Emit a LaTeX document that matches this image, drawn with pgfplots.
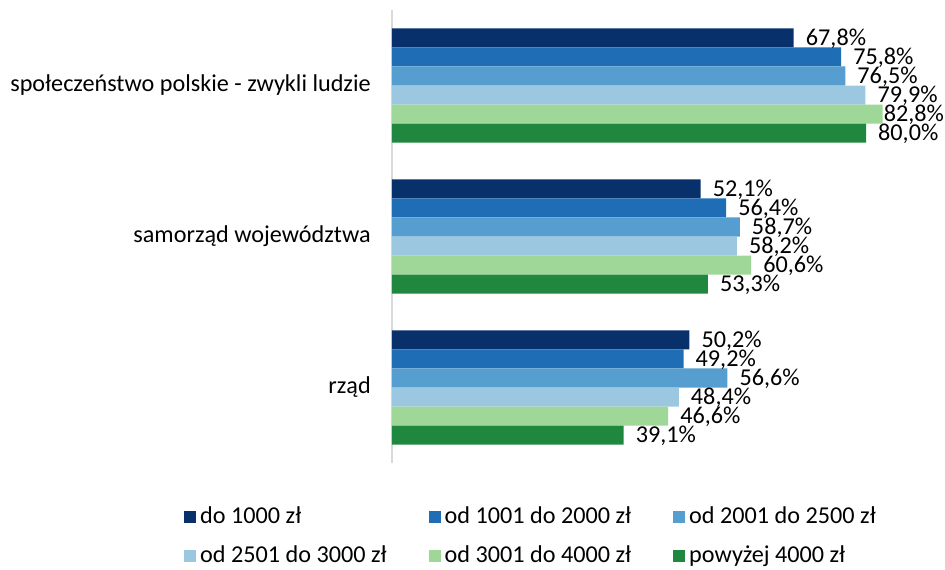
\documentclass[border=0pt]{standalone}
\usepackage{pgfplots}
\pgfplotsset{compat=1.18}
\usepackage{fontspec}
\setmainfont{Carlito}
\definecolor{c1}{HTML}{08306B}
\definecolor{c2}{HTML}{1F6EB5}
\definecolor{c3}{HTML}{559ECF}
\definecolor{c4}{HTML}{9BC8E0}
\definecolor{c5}{HTML}{9ED798}
\definecolor{c6}{HTML}{20873F}
\begin{document}
\fontsize{24.2}{29}\selectfont
\begin{tikzpicture}
\useasboundingbox (-392pt,-107pt) rectangle (553pt,463pt);
\begin{axis}[
  at={(0pt,0pt)}, anchor=south west,
  scale only axis,
  width=533.25pt, height=453pt,
  xbar, xmin=0, xmax=90,
  ymin=-0.5, ymax=2.5, y dir=reverse,
  bar width=0.126,
  axis x line=none,
  axis y line*=left,
  y axis line style={draw=black!15, line width=1.5pt},
  ytick={0,1,2},
  yticklabels={społeczeństwo polskie - zwykli ludzie, samorząd województwa, rząd},
  major tick length=0pt,
  yticklabel style={xshift=-13pt, font=\fontsize{24.2}{29}\selectfont},
  /pgf/number format/assume math mode=true,
  visualization depends on={\thisrow{s} \as \myshift},
  point meta=x,
  nodes near coords={\pgfmathprintnumber[fixed,fixed zerofill,precision=1,use comma]{\pgfplotspointmeta}\%},
  nodes near coords style={font=\fontsize{24.2}{29}\selectfont, anchor=west, xshift=\myshift pt, yshift=-1pt, inner sep=3pt},
  legend columns=3,
  legend image code/.code={\fill[#1] (0pt,-6pt) rectangle (12pt,6pt);},
  legend style={draw=none, font=\fontsize{24.2}{29}\selectfont,
    at={(-0.39,-0.091)}, anchor=north west,
    cells={anchor=west}, inner sep=0pt,
    row sep=15pt,
    /tikz/every odd column/.append style={column sep=2pt},
    /tikz/every even column/.append style={column sep=40pt}},
]
\addplot[fill=c1, draw=none, bar shift=-0.315] table {
x y s
67.8 0 9
52.1 1 9
50.2 2 9
};
\addplot[fill=c2, draw=none, bar shift=-0.189] table {
x y s
75.8 0 9
56.4 1 9
49.2 2 9
};
\addplot[fill=c3, draw=none, bar shift=-0.063] table {
x y s
76.5 0 9
58.7 1 9
56.6 2 9
};
\addplot[fill=c4, draw=none, bar shift=0.063] table {
x y s
79.9 0 9
58.2 1 9
48.4 2 9
};
\addplot[fill=c5, draw=none, bar shift=0.189] table {
x y s
82.8 0 -2
60.6 1 9
46.6 2 9
};
\addplot[fill=c6, draw=none, bar shift=0.315] table {
x y s
80.0 0 9
53.3 1 9
39.1 2 9
};
\legend{do 1000 zł, od 1001 do 2000 zł, od 2001 do 2500 zł, od 2501 do 3000 zł, od 3001 do 4000 zł, powyżej 4000 zł}
\end{axis}
\end{tikzpicture}
\end{document}
